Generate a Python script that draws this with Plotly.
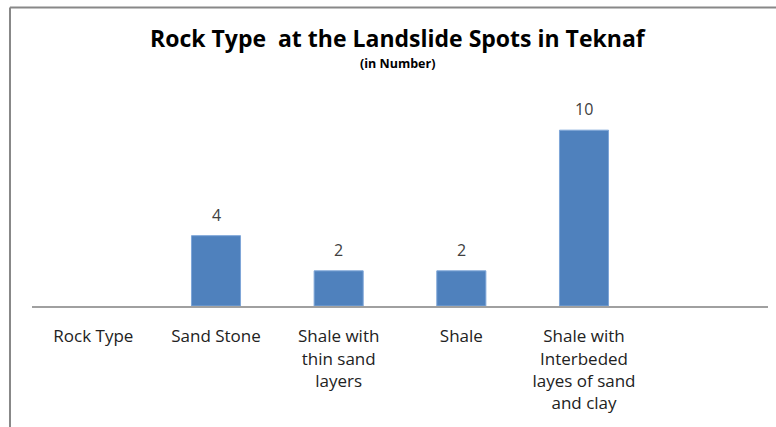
import plotly.graph_objects as go

# Rock types recorded at the landslide spots (first and last slots carry no bar)
categories = ["Rock Type", "Sand Stone", "Shale with<br>thin sand<br>layers", "Shale",
              "Shale with<br>Interbeded<br>layes of sand<br>and clay", " "]
counts = [None, 4, 2, 2, 10, None]

BAR_COLOR = "#4f81bd"
FONT = "Open Sans"

fig = go.Figure(
    go.Bar(
        x=categories,
        y=counts,
        marker=dict(color=BAR_COLOR, line=dict(color="#7ea6d8", width=1)),
        width=0.4,
        hoverinfo="skip",
    )
)

# value labels above each bar
for cat, val in zip(categories, counts):
    if val is None:
        continue
    fig.add_annotation(x=cat, y=val, text=str(val), showarrow=False,
                       yanchor="bottom", yshift=8,
                       font=dict(family=FONT, size=16, color="#404040"))

# title and subtitle
fig.add_annotation(xref="paper", yref="paper", x=0.497, y=1.272,
                   text="<b>Rock Type  at the Landslide Spots in Teknaf</b>",
                   showarrow=False, xanchor="center", yanchor="middle",
                   font=dict(family=FONT, size=23, color="#000000"))
fig.add_annotation(xref="paper", yref="paper", x=0.497, y=1.148,
                   text="<b>(in Number)</b>",
                   showarrow=False, xanchor="center", yanchor="middle",
                   font=dict(family=FONT, size=12.5, color="#000000"))

# chart frame: top and left edges
fig.add_shape(type="line", xref="paper", yref="paper", x0=-0.03, x1=1.02,
              y0=1.4147, y1=1.4147, line=dict(color="#888888", width=2))
fig.add_shape(type="line", xref="paper", yref="paper", x0=-0.0299, x1=-0.0299,
              y0=1.4147, y1=-0.6, line=dict(color="#888888", width=2))

fig.update_layout(
    width=776, height=427,
    margin=dict(l=32, r=8, t=95, b=121),
    paper_bgcolor="white", plot_bgcolor="white",
    showlegend=False,
    font=dict(family=FONT, size=17, color="#222222"),
    bargap=0.6,
)
fig.update_xaxes(
    showline=True, linecolor="#a0a0a0", linewidth=2,
    showgrid=False, ticks="", tickangle=0,
    ticklabelstandoff=14,
    tickfont=dict(family=FONT, size=17, color="#222222"),
)
fig.update_yaxes(range=[0, 12], visible=False, showgrid=False, zeroline=False)

fig.write_html("out.html")
